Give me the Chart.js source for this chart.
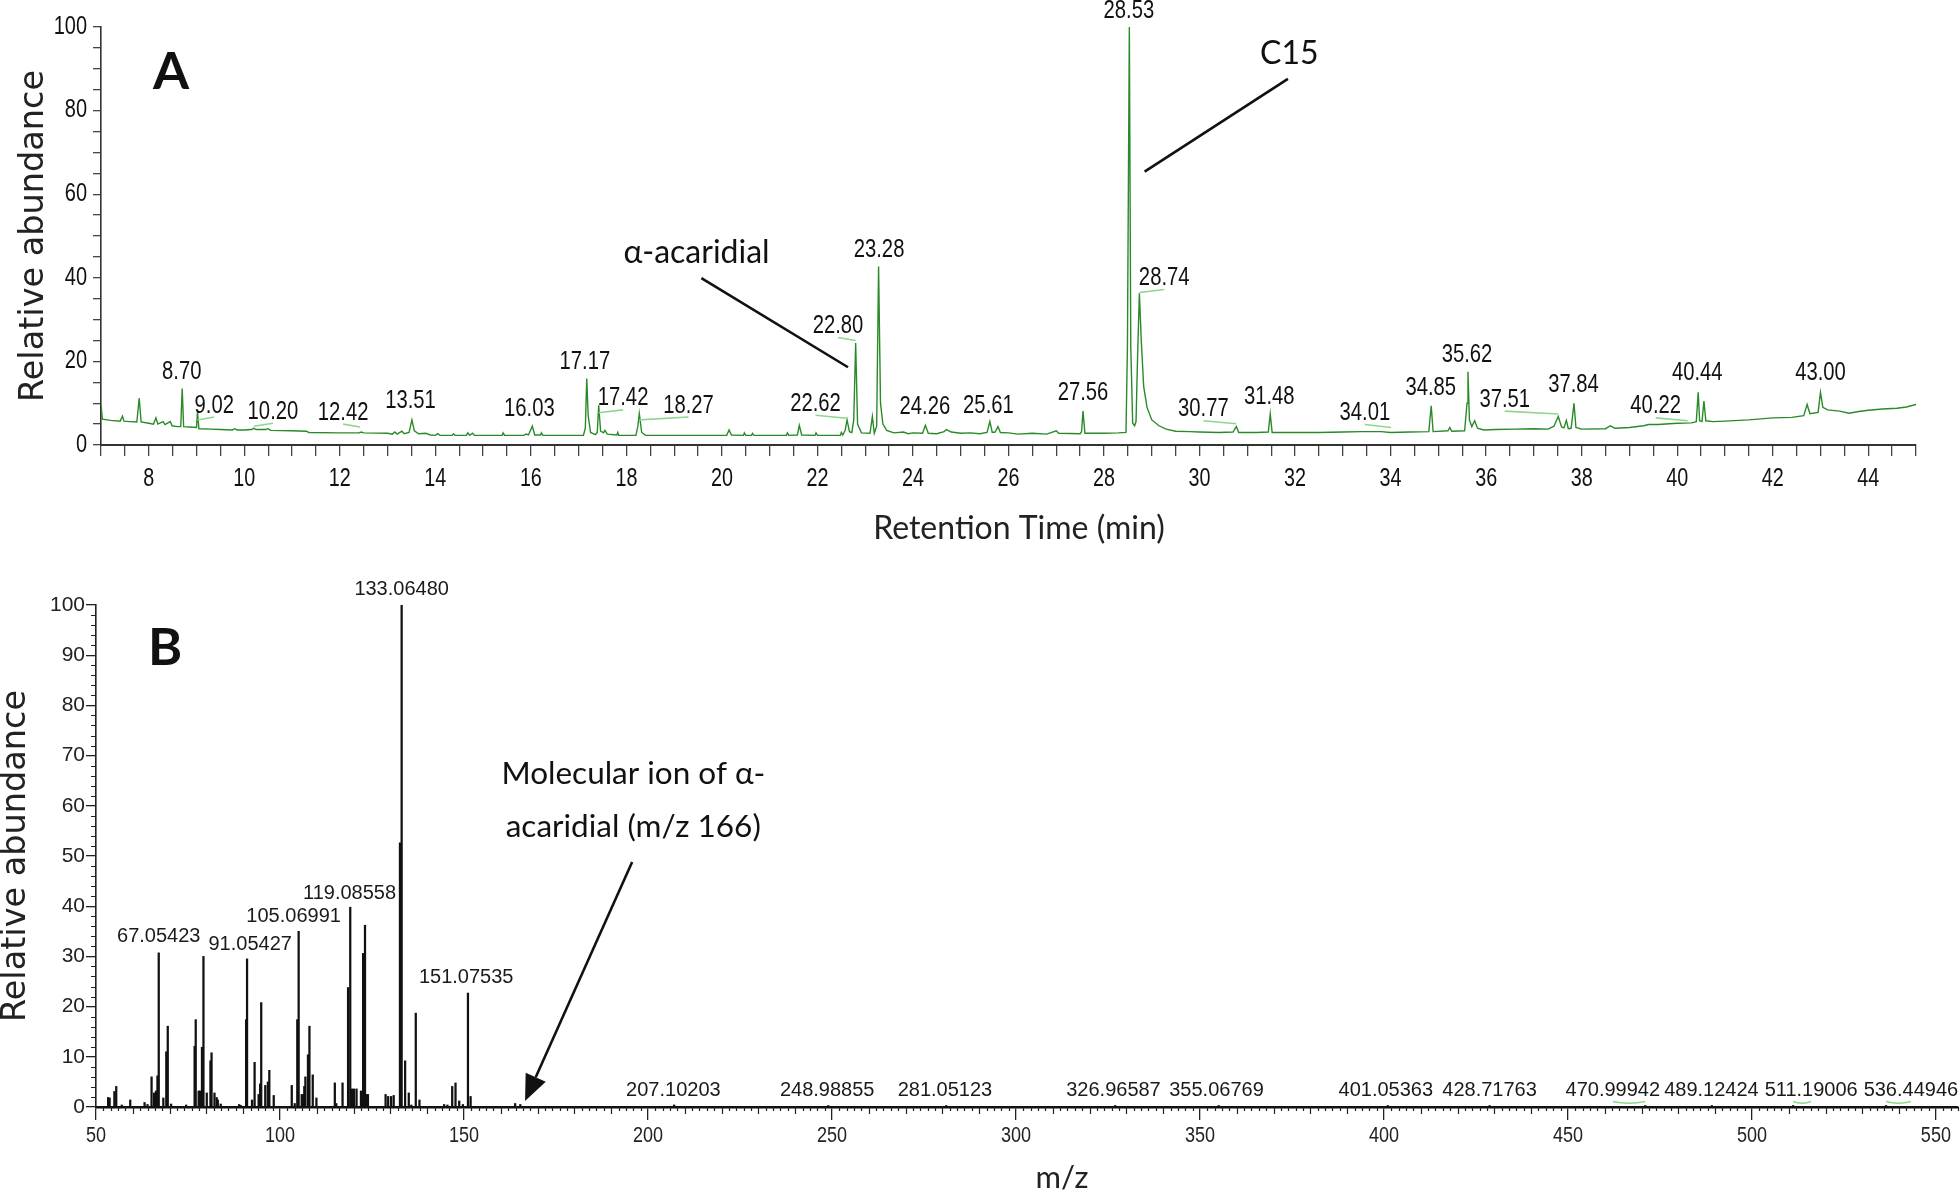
<!DOCTYPE html>
<html>
<head>
<meta charset="utf-8">
<script src="https://cdn.jsdelivr.net/npm/chart.js@4.4.1/dist/chart.umd.min.js"></script>
<style>
  html, body { margin: 0; padding: 0; background: #fff; }
  #wrap { position: relative; width: 1960px; height: 1200px; background: #fff; }
  #boxA { position: absolute; left: 0; top: 0; width: 1960px; height: 560px; }
  #boxB { position: absolute; left: 0; top: 560px; width: 1960px; height: 640px; }
</style>
</head>
<body>
<div id="wrap">
  <div id="boxA"><canvas id="chromChart"></canvas></div>
  <div id="boxB"><canvas id="msChart"></canvas></div>
</div>
<script>
// ---- Panel A : chromatogram (retention time in min, relative abundance %) ----
const rtMin = [
  7.00, 7.03, 7.20, 7.40, 7.45, 7.48, 7.60, 7.75, 7.80, 7.84,
  8.00, 8.10, 8.15, 8.19, 8.30, 8.34, 8.45, 8.49, 8.60, 8.67,
  8.70, 8.73, 8.85, 9.00, 9.02, 9.05, 9.30, 9.50, 9.75, 9.80,
  9.85, 10.00, 10.15, 10.20, 10.25, 10.45, 10.50, 10.55, 11.00, 11.30,
  11.35, 12.00, 12.40, 12.45, 12.50, 13.00, 13.10, 13.15, 13.20, 13.30,
  13.35, 13.45, 13.51, 13.56, 13.65, 13.80, 13.90, 14.00, 14.05, 14.10,
  14.35, 14.38, 14.41, 14.65, 14.68, 14.72, 14.78, 14.82, 15.40, 15.42,
  15.45, 15.85, 15.90, 15.95, 16.03, 16.08, 16.20, 16.22, 16.25, 17.10,
  17.14, 17.17, 17.20, 17.25, 17.35, 17.39, 17.42, 17.46, 17.52, 17.55,
  17.60, 17.80, 17.82, 17.84, 18.20, 18.24, 18.27, 18.32, 18.40, 20.10,
  20.15, 20.20, 20.45, 20.47, 20.50, 20.62, 20.64, 20.67, 21.35, 21.37,
  21.40, 21.58, 21.62, 21.67, 21.95, 21.97, 22.00, 22.48, 22.50, 22.53,
  22.58, 22.62, 22.67, 22.72, 22.76, 22.80, 22.84, 22.92, 23.10, 23.15,
  23.19, 23.24, 23.28, 23.32, 23.37, 23.45, 23.60, 23.80, 23.90, 24.00,
  24.20, 24.26, 24.32, 24.50, 24.65, 24.70, 24.80, 25.00, 25.20, 25.40,
  25.55, 25.61, 25.66, 25.72, 25.78, 25.83, 26.00, 26.20, 26.50, 26.80,
  27.00, 27.05, 27.50, 27.53, 27.56, 27.60, 28.00, 28.30, 28.46, 28.49,
  28.53, 28.56, 28.60, 28.64, 28.67, 28.70, 28.74, 28.78, 28.83, 28.90,
  29.00, 29.15, 29.30, 29.50, 29.80, 30.00, 30.40, 30.70, 30.77, 30.82,
  31.20, 31.44, 31.48, 31.52, 32.00, 32.50, 33.00, 33.40, 33.80, 34.00,
  34.40, 34.80, 34.85, 34.89, 35.20, 35.24, 35.28, 35.55, 35.60, 35.62,
  35.65, 35.70, 35.76, 35.82, 35.95, 36.20, 36.60, 37.00, 37.30, 37.42,
  37.51, 37.58, 37.63, 37.68, 37.72, 37.78, 37.84, 37.88, 38.00, 38.50,
  38.60, 38.70, 39.00, 39.30, 39.40, 39.60, 40.00, 40.30, 40.40, 40.44,
  40.47, 40.52, 40.56, 40.60, 40.75, 41.00, 41.50, 42.00, 42.40, 42.65,
  42.72, 42.78, 42.95, 43.00, 43.05, 43.15, 43.40, 43.60, 43.80, 44.00,
  44.30, 44.60, 44.80, 45.00
];
const rtAbund = [
  9.5, 6.2, 5.9, 5.7, 6.9, 5.7, 5.6, 5.5, 11.2, 5.5,
  5.2, 5.0, 6.5, 5.0, 5.6, 4.9, 5.6, 4.6, 4.4, 4.4,
  13.5, 4.4, 4.3, 4.2, 7.9, 3.9, 3.8, 3.7, 3.6, 3.9,
  3.6, 3.6, 3.7, 4.0, 3.7, 3.7, 3.9, 3.5, 3.4, 3.3,
  3.0, 2.9, 2.9, 3.1, 2.9, 2.8, 2.6, 3.1, 2.6, 3.3,
  2.7, 3.0, 6.0, 3.4, 2.7, 2.8, 2.4, 2.3, 2.7, 2.3,
  2.3, 2.7, 2.3, 2.3, 2.9, 2.3, 2.8, 2.3, 2.3, 2.9,
  2.3, 2.3, 2.6, 2.4, 4.5, 2.4, 2.4, 2.9, 2.3, 2.3,
  4.0, 15.9, 7.0, 3.0, 2.5, 3.0, 9.5, 3.3, 2.9, 3.5,
  2.6, 2.4, 3.0, 2.3, 2.3, 4.5, 7.5, 3.0, 2.3, 2.3,
  3.6, 2.4, 2.3, 2.9, 2.3, 2.3, 2.8, 2.3, 2.3, 2.9,
  2.3, 2.4, 4.7, 2.4, 2.3, 2.9, 2.3, 2.3, 3.0, 2.4,
  3.5, 6.0, 3.2, 3.0, 6.0, 24.4, 5.0, 2.9, 2.8, 6.8,
  2.8, 4.5, 42.7, 10.0, 5.0, 3.5, 2.9, 3.1, 2.7, 2.9,
  2.8, 4.7, 2.8, 2.7, 3.2, 3.7, 3.1, 2.8, 2.9, 2.7,
  3.0, 5.6, 3.0, 3.1, 4.4, 3.0, 2.9, 2.6, 2.8, 2.6,
  3.4, 2.8, 2.7, 3.2, 8.1, 2.8, 2.8, 2.9, 3.0, 23.5,
  100, 23.5, 5.2, 4.6, 5.6, 20.0, 36.3, 25.0, 14.0, 9.0,
  6.0, 4.6, 3.8, 3.3, 3.2, 3.1, 3.0, 3.1, 4.4, 3.0,
  3.0, 3.1, 7.4, 3.0, 3.0, 3.0, 3.1, 3.2, 3.2, 3.0,
  3.1, 3.2, 9.4, 3.2, 3.4, 4.2, 3.3, 3.4, 10.0, 17.5,
  6.0, 4.4, 5.8, 4.0, 3.6, 3.7, 3.8, 3.9, 3.8, 4.5,
  6.8, 4.3, 4.1, 5.9, 3.9, 4.0, 10.0, 4.2, 3.8, 3.9,
  4.6, 4.0, 4.2, 4.6, 4.9, 4.9, 5.2, 5.3, 5.6, 12.6,
  5.8, 5.6, 10.5, 5.8, 5.6, 5.7, 6.0, 6.5, 6.6, 7.0,
  9.7, 7.5, 7.8, 12.6, 9.0, 8.4, 8.1, 7.6, 8.0, 8.3,
  8.6, 8.8, 9.1, 9.7
];

// peak labels of panel A: text, where the text sits (rt, abundance)
const peakLabels = ['8.70', '9.02', '10.20', '12.42', '13.51', '16.03', '17.17', '17.42', '18.27',
  '22.62', '22.80', '23.28', '24.26', '25.61', '27.56', '28.53', '28.74', '30.77', '31.48',
  '34.01', '34.85', '35.62', '37.51', '37.84', '40.22', '40.44', '43.00'];
const peakLabelRt = [8.69, 9.37, 10.60, 12.07, 13.48, 15.97, 17.13, 17.93, 19.30,
  21.96, 22.43, 23.29, 24.25, 25.58, 27.56, 28.52, 29.26, 30.08, 31.46,
  33.46, 34.84, 35.60, 36.39, 37.83, 39.55, 40.42, 43.00];
const peakLabelAbund = [17.5, 9.4, 7.9, 7.7, 10.5, 8.5, 19.8, 11.1, 9.4,
  9.8, 28.4, 46.6, 9.0, 9.4, 12.4, 103.8, 39.9, 8.5, 11.5,
  7.6, 13.7, 21.5, 10.8, 14.4, 9.2, 17.1, 17.1];

const calloutText = ['α-acaridial', 'C15'];
const calloutRt = [19.47, 31.88];
const calloutAbund = [46.0, 93.6];
const calloutFrom = [[19.57, 39.9], [31.85, 87.6]];
const calloutTo = [[22.64, 18.6], [28.85, 65.4]];

// ---- Panel B : mass spectrum (m/z, relative abundance %) ----
const ionMz = [
  53.3, 53.7, 55.0, 55.5, 57.0, 59.3, 63.2, 64.0, 65.1, 65.8,
  66.3, 66.7, 67.05, 68.3, 69.1, 69.5, 70.4, 74.5, 76.8, 77.1,
  77.9, 78.3, 78.8, 79.2, 80.1, 81.1, 81.4, 82.2, 82.8, 83.1,
  83.9, 88.9, 89.4, 90.8, 91.05, 92.4, 93.1, 94.2, 94.6, 94.9,
  96.0, 96.7, 97.1, 98.3, 103.2, 104.0, 104.7, 105.07, 105.9, 106.3,
  106.6, 106.9, 107.6, 108.0, 108.9, 109.9, 114.9, 115.3, 117.0, 118.5,
  119.09, 119.6, 120.1, 120.8, 122.0, 122.6, 123.1, 123.6, 123.9, 128.7,
  129.4, 130.2, 130.9, 132.6, 133.06, 134.0, 135.0, 135.7, 136.9, 137.9,
  144.6, 145.5, 146.8, 147.7, 148.7, 149.7, 151.08, 151.8, 163.9, 165.3,
  207.10, 248.99, 281.05, 326.97, 355.07, 401.05, 428.72, 471.00, 489.12, 511.19,
  536.45
];
const ionAbund = [
  1.9, 1.8, 3.1, 4.1, 0.4, 1.4, 0.9, 0.5, 6.0, 2.8,
  3.2, 6.2, 30.7, 1.8, 11.0, 16.1, 0.6, 0.4, 12.1, 17.4,
  3.2, 3.2, 11.9, 30.0, 2.8, 9.2, 10.8, 2.8, 1.9, 1.4,
  0.6, 0.5, 0.3, 17.4, 29.5, 1.4, 8.9, 2.5, 4.6, 20.8,
  4.3, 5.0, 7.3, 2.3, 4.3, 0.7, 17.4, 35.0, 2.5, 2.5,
  4.1, 6.0, 10.4, 16.1, 6.4, 1.8, 4.8, 0.7, 4.8, 23.8,
  39.8, 3.6, 3.6, 3.6, 3.2, 30.6, 36.2, 2.5, 2.5, 2.5,
  2.1, 2.1, 2.3, 52.6, 100, 9.2, 2.8, 0.4, 18.7, 1.4,
  0.5, 0.4, 4.1, 4.8, 1.2, 0.5, 22.7, 2.1, 0.7, 0.5,
  0.4, 0.3, 0.3, 0.3, 0.3, 0.3, 0.3, 0.3, 0.3, 0.3,
  0.3
];
const ionLabels = ['133.06480', '119.08558', '105.06991', '67.05423', '91.05427', '151.07535',
  '207.10203', '248.98855', '281.05123', '326.96587', '355.06769', '401.05363', '428.71763',
  '470.99942', '489.12424', '511.19006', '536.44946'];
const ionLabelMz = [133.06, 118.9, 103.7, 67.05, 91.9, 150.6,
  206.9, 248.7, 280.7, 326.5, 354.5, 400.5, 428.7, 462.2, 489.0, 516.1, 543.2];
const ionLabelAbund = [103.1, 42.6, 38.0, 34.0, 32.3, 25.8,
  3.3, 3.3, 3.3, 3.3, 3.3, 3.3, 3.3, 3.3, 3.3, 3.3, 3.3];

const ionNote = ['Molecular ion of α-', 'acaridial (m/z 166)'];
const ionNoteMz = 196.0;
const ionNoteAbund = [66.3, 55.8];
const ionArrowFrom = [195.7, 48.8];
const ionArrowTo = [166.6, 1.2];

const sans = "'Liberation Sans', Arial, sans-serif";
const calibri = "Lato, 'Open Sans', sans-serif";
const verdana = "'DejaVu Sans', Verdana, sans-serif";

// condensed text: the figure uses a narrow face, so squeeze a normal one
function fillNarrow(ctx, text, x, y, sx) {
  ctx.save();
  ctx.translate(x, y);
  ctx.scale(sx, 1);
  ctx.fillText(text, 0, 0);
  ctx.restore();
}

function drawRotated(ctx, text, x, y, font) {
  ctx.save();
  ctx.translate(x, y);
  ctx.rotate(-Math.PI / 2);
  ctx.font = font;
  ctx.textAlign = 'center';
  ctx.textBaseline = 'middle';
  ctx.fillText(text, 0, 0);
  ctx.restore();
}

const chromDecor = {
  id: 'chromDecor',
  afterDraw(chart) {
    const {ctx, scales: {x, y}} = chart;
    const area = chart.chartArea;
    ctx.save();
    // tick labels
    ctx.fillStyle = '#111';
    ctx.font = '26px ' + sans;
    ctx.textAlign = 'center';
    ctx.textBaseline = 'middle';
    x.ticks.forEach(t => {
      if (Number.isInteger(t.value) && t.value % 2 === 0) {
        fillNarrow(ctx, String(t.value), x.getPixelForValue(t.value), area.bottom + 34, 0.76);
      }
    });
    ctx.textAlign = 'right';
    ctx.font = '25px ' + sans;
    y.ticks.forEach(t => {
      if (t.value % 20 === 0) {
        fillNarrow(ctx, String(t.value), area.left - 14, y.getPixelForValue(t.value), 0.8);
      }
    });
    // light green leaders from label to peak
    ctx.strokeStyle = '#8fd68f';
    ctx.lineWidth = 1.6;
    peakLabels.forEach((txt, i) => {
      const rt = parseFloat(txt);
      if (Math.abs(peakLabelRt[i] - rt) > 0.2) {
        ctx.beginPath();
        ctx.moveTo(x.getPixelForValue(peakLabelRt[i]), y.getPixelForValue(peakLabelAbund[i] - 2.7));
        ctx.lineTo(x.getPixelForValue(rt), y.getPixelForValue(peakLabelAbund[i] - 3.4));
        ctx.stroke();
      }
    });
    ctx.fillStyle = '#111';
    ctx.font = '25px ' + sans;
    ctx.textAlign = 'center';
    peakLabels.forEach((txt, i) => {
      fillNarrow(ctx, txt, x.getPixelForValue(peakLabelRt[i]), y.getPixelForValue(peakLabelAbund[i]), 0.81);
    });
    // callouts
    ctx.strokeStyle = '#111';
    ctx.lineWidth = 2.6;
    ctx.font = '32px ' + calibri;
    calloutText.forEach((txt, i) => {
      ctx.fillText(txt, x.getPixelForValue(calloutRt[i]), y.getPixelForValue(calloutAbund[i]));
      ctx.beginPath();
      ctx.moveTo(x.getPixelForValue(calloutFrom[i][0]), y.getPixelForValue(calloutFrom[i][1]));
      ctx.lineTo(x.getPixelForValue(calloutTo[i][0]), y.getPixelForValue(calloutTo[i][1]));
      ctx.stroke();
    });
    // panel letter and axis titles
    ctx.font = 'bold 52px ' + calibri;
    ctx.fillText('A', 171, 72);
    ctx.fillStyle = '#222';
    ctx.font = '32px ' + calibri;
    ctx.fillText('Retention Time (min)', 1019, 529);
    drawRotated(ctx, 'Relative abundance', 34, (area.top + area.bottom) / 2, '33.5px ' + verdana);
    ctx.restore();
  }
};

const msDecor = {
  id: 'msDecor',
  afterDraw(chart) {
    const {ctx, scales: {x, y}} = chart;
    const area = chart.chartArea;
    ctx.save();
    // minor ticks
    ctx.strokeStyle = '#222';
    ctx.lineWidth = 1.2;
    ctx.beginPath();
    for (let m = 52; m <= 556; m += 2) {
      if (m % 50 === 0) continue;
      const px = Math.round(x.getPixelForValue(m)) + 0.5;
      const len = (m % 10 === 0) ? 7 : 4;
      ctx.moveTo(px, area.bottom);
      ctx.lineTo(px, area.bottom + len);
    }
    for (let v = 2; v < 100; v += 2) {
      if (v % 10 === 0) continue;
      const py = Math.round(y.getPixelForValue(v)) + 0.5;
      ctx.moveTo(area.left, py);
      ctx.lineTo(area.left - 5, py);
    }
    ctx.stroke();
    // x tick labels
    ctx.fillStyle = '#222';
    ctx.font = '22px ' + sans;
    ctx.textAlign = 'center';
    ctx.textBaseline = 'middle';
    x.ticks.forEach(t => {
      fillNarrow(ctx, String(t.value), x.getPixelForValue(t.value), area.bottom + 29, 0.82);
    });
    // leaders of shifted labels
    ctx.strokeStyle = '#8fd68f';
    ctx.lineWidth = 1.6;
    ionLabels.forEach((txt, i) => {
      const mz = parseFloat(txt);
      if (Math.abs(ionLabelMz[i] - mz) > 1.5) {
        ctx.beginPath();
        ctx.moveTo(x.getPixelForValue(mz), y.getPixelForValue(ionLabelAbund[i] - 2.2));
        ctx.quadraticCurveTo(
          x.getPixelForValue((mz + ionLabelMz[i]) / 2), y.getPixelForValue(ionLabelAbund[i] - 2.9),
          x.getPixelForValue(ionLabelMz[i]), y.getPixelForValue(ionLabelAbund[i] - 2.2));
        ctx.stroke();
      }
    });
    // peak labels
    ctx.fillStyle = '#1a1a1a';
    ctx.font = '20px ' + sans;
    ionLabels.forEach((txt, i) => {
      fillNarrow(ctx, txt, x.getPixelForValue(ionLabelMz[i]), y.getPixelForValue(ionLabelAbund[i]), 1.0);
    });
    // molecular ion note and arrow
    ctx.fillStyle = '#111';
    ctx.font = '31.5px ' + calibri;
    ionNote.forEach((txt, i) => {
      ctx.fillText(txt, x.getPixelForValue(ionNoteMz), y.getPixelForValue(ionNoteAbund[i]));
    });
    const x0 = x.getPixelForValue(ionArrowFrom[0]), y0 = y.getPixelForValue(ionArrowFrom[1]);
    const x1 = x.getPixelForValue(ionArrowTo[0]), y1 = y.getPixelForValue(ionArrowTo[1]);
    const ang = Math.atan2(y1 - y0, x1 - x0);
    const head = 26, half = 11;
    const bx = x1 - head * Math.cos(ang), by = y1 - head * Math.sin(ang);
    ctx.strokeStyle = '#111';
    ctx.lineWidth = 2.6;
    ctx.beginPath();
    ctx.moveTo(x0, y0);
    ctx.lineTo(bx, by);
    ctx.stroke();
    ctx.beginPath();
    ctx.moveTo(x1, y1);
    ctx.lineTo(bx + half * Math.sin(ang), by - half * Math.cos(ang));
    ctx.lineTo(bx - half * Math.sin(ang), by + half * Math.cos(ang));
    ctx.closePath();
    ctx.fill();
    // panel letter and axis titles
    ctx.font = 'bold 52px ' + calibri;
    ctx.fillText('B', 165, 88);
    ctx.fillStyle = '#222';
    ctx.font = '31px ' + calibri;
    ctx.fillText('m/z', 1062, 618);
    drawRotated(ctx, 'Relative abundance', 16, (area.top + area.bottom) / 2, '33.5px ' + verdana);
    ctx.restore();
  }
};

const ctxA = document.getElementById('chromChart').getContext('2d');
new Chart(ctxA, {
  type: 'line',
  data: {
    datasets: [{
      data: rtMin.map((t, i) => ({x: t, y: rtAbund[i]})),
      borderColor: '#2a8a2a',
      borderWidth: 1.4,
      pointRadius: 0,
      tension: 0
    }]
  },
  options: {
    responsive: true,
    maintainAspectRatio: false,
    animation: false,
    layout: { padding: { top: 27, right: 44, left: 0, bottom: 0 } },
    plugins: { legend: { display: false }, tooltip: { enabled: false } },
    scales: {
      x: {
        type: 'linear', min: 7, max: 45,
        ticks: { stepSize: 0.5, autoSkip: false, maxRotation: 0, display: false },
        grid: { drawOnChartArea: false, tickLength: 11, color: '#444', lineWidth: 1.3 },
        border: { color: '#333', width: 2 },
        afterFit: s => { s.height = 115; }
      },
      y: {
        min: 0, max: 100,
        ticks: { stepSize: 5, autoSkip: false, display: false },
        grid: { drawOnChartArea: false, tickLength: 8, color: '#444', lineWidth: 1.3 },
        border: { color: '#333', width: 1.6 },
        afterFit: s => { s.width = 101; }
      }
    }
  },
  plugins: [chromDecor]
});

const ctxB = document.getElementById('msChart').getContext('2d');
new Chart(ctxB, {
  type: 'bar',
  data: {
    datasets: [{
      data: ionMz.map((m, i) => ({x: m, y: ionAbund[i]})),
      backgroundColor: '#111',
      borderWidth: 0,
      barThickness: 1.6
    }]
  },
  options: {
    responsive: true,
    maintainAspectRatio: false,
    animation: false,
    layout: { padding: { top: 45, right: 2, left: 0, bottom: 0 } },
    plugins: { legend: { display: false }, tooltip: { enabled: false } },
    scales: {
      x: {
        type: 'linear', min: 50, max: 556, offset: false,
        ticks: { stepSize: 50, includeBounds: false, autoSkip: false, maxRotation: 0, display: false },
        grid: { drawOnChartArea: false, offset: false, tickLength: 13, color: '#222', lineWidth: 1.3 },
        border: { color: '#111', width: 2.6 },
        afterFit: s => { s.height = 93; }
      },
      y: {
        min: 0, max: 100,
        ticks: { stepSize: 10, padding: 1, color: '#222', font: { family: sans, size: 21 } },
        grid: { drawOnChartArea: false, tickLength: 10, color: '#222', lineWidth: 1.3 },
        border: { color: '#222', width: 1.6 },
        afterFit: s => { s.width = 96; }
      }
    }
  },
  plugins: [msDecor]
});
</script>
</body>
</html>
